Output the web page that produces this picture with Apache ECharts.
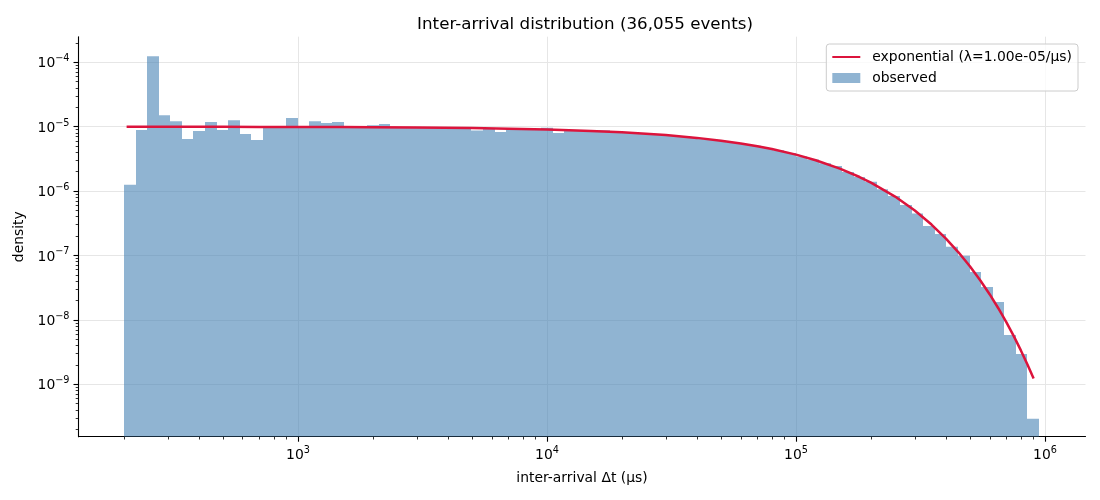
<!DOCTYPE html>
<html>
<head>
<meta charset="utf-8">
<script src="https://cdn.jsdelivr.net/npm/echarts@6/dist/echarts.min.js"></script>
<style>
  html, body { margin: 0; padding: 0; background: #fff; }
  #chart { width: 1100px; height: 500px; }
</style>
</head>
<body>
<div id="chart"></div>
<script>
// histogram bins: log-spaced edges from the smallest to the largest gap
var binLo = 200;
var binHi = 946000;
var binCount = 79;

// observed density per bin
var observed = [
  1.25e-6, 8.85e-6, 1.24e-4, 1.51e-5, 1.22e-5, 6.43e-6, 8.55e-6, 1.18e-5, 8.85e-6, 1.26e-5,
  7.67e-6, 6.2e-6, 1.0e-5, 1.0e-5, 1.36e-5, 1.0e-5, 1.22e-5, 1.14e-5, 1.18e-5, 9.9e-6,
  9.9e-6, 1.05e-5, 1.1e-5, 9.7e-6, 9.75e-6, 9.65e-6, 9.7e-6, 9.55e-6, 9.6e-6, 9.5e-6,
  8.7e-6, 9.4e-6, 8.3e-6, 9.3e-6, 9.2e-6, 9.1e-6, 9.6e-6, 8.0e-6, 8.85e-6, 8.7e-6,
  8.55e-6, 8.8e-6, 8.25e-6, 8.1e-6, 7.9e-6, 7.7e-6, 7.45e-6, 7.25e-6, 6.95e-6, 6.7e-6,
  6.4e-6, 6.05e-6, 5.75e-6, 5.4e-6, 5.05e-6, 4.65e-6, 4.3e-6, 3.9e-6, 3.45e-6, 3.1e-6,
  2.7e-6, 2.45e-6, 1.97e-6, 1.65e-6, 1.4e-6, 1.07e-6, 8.4e-7, 6.08e-7, 4.47e-7, 2.87e-7,
  2.16e-7, 1.37e-7, 9.93e-8, 5.54e-8, 3.24e-8, 1.9e-8, 5.83e-9, 2.95e-9, 2.9e-10
];

// fitted exponential curve
var curveX = [
  205, 300, 500, 700, 1000, 1500, 2000, 3000, 5000, 7000,
  10000, 15000, 20000, 30000, 40000, 50000, 60000, 70000, 80000, 100000,
  120000, 150000, 180000, 200000, 250000, 300000, 350000, 400000, 450000, 500000,
  550000, 600000, 650000, 700000, 750000, 800000, 850000, 900000
];
var curveY = [
  9.98e-6, 9.97e-6, 9.95e-6, 9.93e-6, 9.90e-6, 9.851e-6, 9.802e-6, 9.704e-6, 9.512e-6, 9.324e-6,
  9.048e-6, 8.607e-6, 8.187e-6, 7.408e-6, 6.703e-6, 6.065e-6, 5.488e-6, 4.966e-6, 4.493e-6, 3.679e-6,
  3.012e-6, 2.231e-6, 1.653e-6, 1.353e-6, 8.21e-7, 4.98e-7, 3.02e-7, 1.83e-7, 1.11e-7, 6.74e-8,
  4.09e-8, 2.48e-8, 1.50e-8, 9.12e-9, 5.53e-9, 3.35e-9, 2.03e-9, 1.23e-9
];

var xMajor = [1e3, 1e4, 1e5, 1e6];
var yMajor = [1e-9, 1e-8, 1e-7, 1e-6, 1e-5, 1e-4];

var X_MIN = 131.4, X_MAX = 1.454e6;
var Y_MIN = 1.53e-10, Y_MAX = 2.5e-4;

var FONT = 'DejaVu Sans';
var LINE_NAME = 'exponential (\u03bb=1.00e-05/\u00b5s)';

// minor ticks at 2..9 x 10^n inside the axis range
function minorTicks(lo, hi) {
  var out = [];
  for (var e = Math.floor(Math.log10(lo)); e <= Math.ceil(Math.log10(hi)); e++) {
    for (var k = 2; k <= 9; k++) {
      var v = k * Math.pow(10, e);
      if (v >= lo && v <= hi) out.push(v);
    }
  }
  return out;
}

var bars = [];
var step = (Math.log10(binHi) - Math.log10(binLo)) / binCount;
for (var i = 0; i < binCount; i++) {
  var a = Math.pow(10, Math.log10(binLo) + i * step);
  var b = Math.pow(10, Math.log10(binLo) + (i + 1) * step);
  bars.push([a, b, observed[i]]);
}
var curve = curveX.map(function (x, i) { return [x, curveY[i]]; });

function powLabel(v) {
  var e = Math.round(Math.log10(v));
  var s = e < 0 ? '\u2212' + (-e) : '' + e;
  return '{b|10}{s|' + s + '}';
}
var richLabel = {
  b: { fontSize: 13.9, fontFamily: FONT, color: '#000', lineHeight: 17, verticalAlign: 'bottom' },
  s: { fontSize: 9.7, fontFamily: FONT, color: '#000', lineHeight: 10, verticalAlign: 'top' }
};

var myChart = echarts.init(document.getElementById('chart'));

var option = {
  animation: false,
  backgroundColor: '#fff',
  title: {
    text: 'Inter-arrival distribution (36,055 events)',
    left: 580,
    top: 11,
    textAlign: 'center',
    textStyle: { fontFamily: FONT, fontSize: 16.7, fontWeight: 'normal', color: '#000' }
  },
  legend: {
    orient: 'vertical',
    right: 22,
    top: 44,
    itemWidth: 28,
    itemHeight: 10,
    itemGap: 7,
    padding: [6, 6, 6, 5],
    backgroundColor: 'rgba(255,255,255,0.8)',
    borderColor: '#cccccc',
    borderWidth: 1,
    borderRadius: 3,
    textStyle: { fontFamily: FONT, fontSize: 13.9, color: '#000', padding: [0, 0, 0, 7] },
    data: [
      { name: LINE_NAME, itemStyle: { color: 'rgba(0,0,0,0)', borderWidth: 0, opacity: 0 } },
      { name: 'observed', icon: 'rect' }
    ]
  },
  grid: { left: 78.5, right: 14.5, top: 36.7, bottom: 63.3 },
  xAxis: [
    {
      type: 'log',
      logBase: 10,
      min: X_MIN,
      max: X_MAX,
      name: 'inter-arrival \u0394t (\u00b5s)',
      nameLocation: 'middle',
      nameGap: 35,
      nameTextStyle: { fontFamily: FONT, fontSize: 13.9, color: '#000' },
      axisLine: { show: true, lineStyle: { color: '#000', width: 1.1 } },
      axisTick: { show: true, length: 5, lineStyle: { color: '#000', width: 1.1 }, customValues: xMajor },
      axisLabel: { customValues: xMajor, formatter: powLabel, rich: richLabel, margin: 9 },
      splitLine: { show: true, lineStyle: { color: '#e6e6e6', width: 1 } }
    },
    {
      type: 'log',
      logBase: 10,
      min: X_MIN,
      max: X_MAX,
      position: 'bottom',
      axisLine: { show: false },
      axisTick: { show: true, length: 2.8, lineStyle: { color: '#000', width: 0.8 }, customValues: minorTicks(X_MIN, X_MAX) },
      axisLabel: { show: false },
      splitLine: { show: false }
    }
  ],
  yAxis: [
    {
      type: 'log',
      logBase: 10,
      min: Y_MIN,
      max: Y_MAX,
      name: 'density',
      nameLocation: 'middle',
      nameGap: 45,
      nameTextStyle: { fontFamily: FONT, fontSize: 13.9, color: '#000' },
      axisLine: { show: true, lineStyle: { color: '#000', width: 1.1 } },
      axisTick: { show: true, length: 5, lineStyle: { color: '#000', width: 1.1 }, customValues: yMajor },
      axisLabel: { customValues: yMajor, formatter: powLabel, rich: richLabel, margin: 9 },
      splitLine: { show: true, lineStyle: { color: '#e6e6e6', width: 1 } }
    },
    {
      type: 'log',
      logBase: 10,
      min: Y_MIN,
      max: Y_MAX,
      position: 'left',
      axisLine: { show: false },
      axisTick: { show: true, length: 2.8, lineStyle: { color: '#000', width: 0.8 }, customValues: minorTicks(Y_MIN, Y_MAX) },
      axisLabel: { show: false },
      splitLine: { show: false }
    }
  ],
  series: [
    {
      name: 'observed',
      type: 'custom',
      xAxisIndex: 0,
      yAxisIndex: 0,
      clip: true,
      itemStyle: { color: 'rgba(70,130,180,0.6)' },
      encode: { x: [0, 1], y: 2 },
      data: bars,
      renderItem: function (params, api) {
        var p0 = api.coord([api.value(0), api.value(2)]);
        var p1 = api.coord([api.value(1), Y_MIN]);
        // snap the sides to whole pixels so neighbouring bars meet without seams
        var x0 = Math.round(p0[0]), x1 = Math.round(p1[0]);
        return {
          type: 'rect',
          shape: { x: x0, y: p0[1], width: x1 - x0, height: p1[1] - p0[1] },
          style: { fill: 'rgba(70,130,180,0.6)' }
        };
      },
      z: 2
    },
    {
      name: LINE_NAME,
      type: 'line',
      xAxisIndex: 0,
      yAxisIndex: 0,
      data: curve,
      symbol: 'none',
      showSymbol: false,
      lineStyle: { color: '#dc143c', width: 2.5 },
      itemStyle: { color: '#dc143c' },
      z: 3
    }
  ]
};

myChart.setOption(option);
window.onresize = function () { myChart.resize(); };
</script>
</body>
</html>
